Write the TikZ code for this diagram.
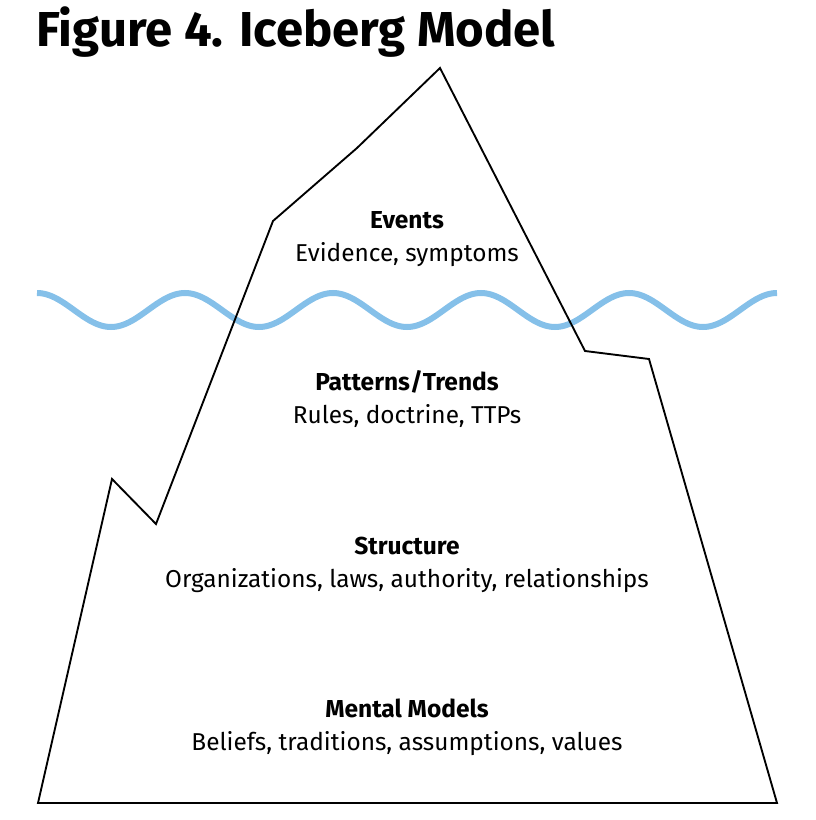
\documentclass[tikz,border=0pt]{standalone}
\usepackage{fontspec}
\setmainfont{Fira Sans}
\definecolor{sea}{RGB}{133,192,233}
\begin{document}
\begin{tikzpicture}[x=0.75pt,y=-0.75pt]
\useasboundingbox (0,0) rectangle (815,820);
\node[anchor=base west,inner sep=0pt,font=\fontsize{36.8}{40}\selectfont\bfseries] (titre) at (36,47) {Figure 4. Iceberg Model};
% waterline
\draw[sea,line width=4.5pt] plot[domain=37:777,samples=241,smooth] (\x,{310-17*cos((\x-37)/148*360)});
% iceberg outline
\draw[line width=1.4pt] (38,803) -- (112,479) -- (156,524) -- (273,221) -- (357,148) -- (440,68)
  -- (585,351) -- (649,359) -- (777,803) -- cycle;
\foreach \i/\yh/\head/\sub in {%
 1/228/Events/{Evidence, symptoms},
 2/390/{Patterns/Trends}/{Rules, doctrine, TTPs},
 3/554/Structure/{Organizations, laws, authority, relationships},
 4/717/{Mental Models}/{Beliefs, traditions, assumptions, values}}{
  \node[anchor=base,inner sep=0pt,font=\bfseries\fontsize{18.4}{22}\selectfont] (head\i) at (407,\yh) {\head};
  \node[anchor=base,inner sep=0pt,font=\fontsize{18.3}{22}\selectfont] (sub\i) at (407,\yh+33) {\sub};}
\end{tikzpicture}
\end{document}
